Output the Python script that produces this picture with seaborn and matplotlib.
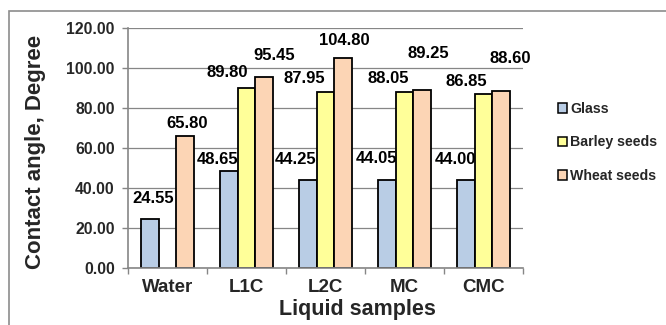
import numpy as np
import pandas as pd
import seaborn as sns
import matplotlib.pyplot as plt
from matplotlib.patches import Patch, Rectangle

# Contact angle (degrees) of each liquid sample on three surfaces
categories = ["Water", "L1C", "L2C", "MC", "CMC"]
series = ["Glass", "Barley seeds", "Wheat seeds"]
glass = [24.55, 48.65, 44.25, 44.05, 44.00]
barley = [np.nan, 89.80, 87.95, 88.05, 86.85]
wheat = [65.80, 95.45, 104.80, 89.25, 88.60]
y_ticks = [0, 20, 40, 60, 80, 100, 120]

colors = ["#b9cde5", "#ffff99", "#fcd5b5"]

# hand-placed label offsets (pixels: dx from bar centre, baseline above bar top)
label_offsets = {
    "Glass": [(3.5, 16), (-11.5, 7), (-12.4, 16), (-10.6, 16.6), (-10, 16)],
    "Barley seeds": [None, (-19, 11), (-21, 8.8), (-16.5, 8.6), (-16.7, 8.3)],
    "Wheat seeds": [(2.4, 8), (10.5, 17.6), (0.7, 13.4), (6.2, 31), (9.4, 28)],
}

rows = []
for name, vals in zip(series, [glass, barley, wheat]):
    for cat, v in zip(categories, vals):
        if not np.isnan(v):
            rows.append({"Liquid": cat, "Sample": name, "Angle": v})
df = pd.DataFrame(rows)

sns.set_theme(style="white")
plt.rcParams["font.family"] = ["Liberation Sans", "DejaVu Sans"]
plt.rcParams["font.weight"] = "bold"

DPI = 100
fig = plt.figure(figsize=(6.66, 3.25), dpi=DPI)
ax = fig.add_axes([128 / 666, 57 / 325, 395 / 666, 240 / 325])

group_width = 0.67
sns.barplot(data=df, x="Liquid", y="Angle", hue="Sample", order=categories,
            hue_order=series, palette=colors, width=group_width, saturation=1,
            edgecolor="black", linewidth=1.3, errorbar=None, legend=False, ax=ax)

grey = "#868686"
ax.set_ylim(0, 120)
ax.set_xlim(-0.5, len(categories) - 0.5)
ax.set_yticks(y_ticks)
ax.set_yticklabels([f"{t:.2f}" for t in y_ticks], fontsize=11.3, fontweight="bold")
ax.set_xticks(range(len(categories)))
ax.set_xticklabels(categories, fontsize=13.5, fontweight="bold")
ax.set_xticks(np.arange(-0.5, len(categories)), minor=True)
ax.tick_params(axis="x", which="major", length=0, pad=8)
ax.tick_params(axis="x", which="minor", bottom=True, length=4.5, width=1, color=grey)
ax.tick_params(axis="y", left=True, length=4.5, width=1, color=grey, pad=5)

ax.yaxis.grid(True, color=grey, lw=0.9)
ax.set_axisbelow(True)
for side in ["top", "right"]:
    ax.spines[side].set_visible(False)
for side in ["left", "bottom"]:
    ax.spines[side].set_color(grey)
    ax.spines[side].set_linewidth(1.2)

ax.set_xlabel("Liquid samples", fontsize=15.5, fontweight="bold", va="center")
ax.xaxis.set_label_coords(0.58, -0.173)
ax.set_ylabel("Contact angle, Degree", fontsize=16, fontweight="bold", va="center")
ax.yaxis.set_label_coords(-0.233, 0.485)

# value labels above each bar
bar_w = group_width / len(series)
px2pt = 72 / DPI
for p in ax.patches:
    h = p.get_height()
    if np.isnan(h) or h <= 0:
        continue
    xc = p.get_x() + p.get_width() / 2
    ci = int(round(xc))
    si = int(round((xc - ci) / bar_w)) + 1
    off = label_offsets[series[si]][ci]
    if off is None:
        continue
    ax.annotate(f"{h:.2f}", xy=(xc, h), xytext=(off[0] * px2pt, off[1] * px2pt),
                textcoords="offset points", ha="center", va="baseline",
                fontsize=12, fontweight="bold", color="black")

handles = [Patch(facecolor=c, edgecolor="black", linewidth=1.1) for c in colors]
fig.legend(handles, series, loc="upper left", bbox_to_anchor=(558 / 666, 1 - 102 / 325),
           frameon=False, prop={"weight": "bold", "size": 10.2},
           handlelength=0.65, handleheight=0.65, handletextpad=0.2,
           labelspacing=1.37, borderpad=0, borderaxespad=0)

# chart-area border
fig.add_artist(Rectangle((9 / 666, -0.1), 1.2, 1.1 - 11 / 325, transform=fig.transFigure,
                         fill=False, edgecolor="#8c8c8c", linewidth=1.2))

fig.savefig("out.png", dpi=DPI)
